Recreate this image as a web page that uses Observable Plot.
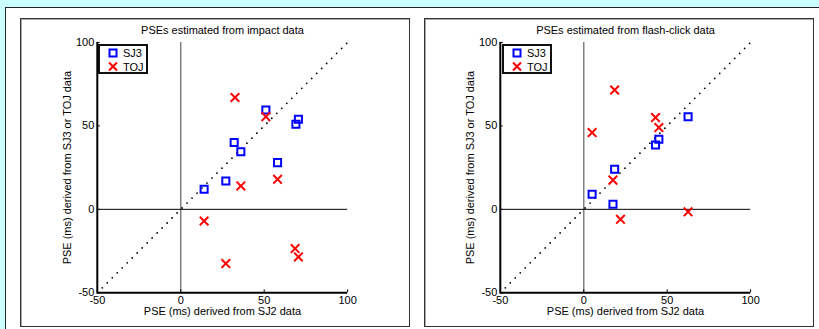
<!DOCTYPE html>
<html><head><meta charset="utf-8">
<script src="https://cdn.jsdelivr.net/npm/d3@7"></script>
<script src="https://cdn.jsdelivr.net/npm/@observablehq/plot@0.6"></script>
<style>
body{margin:0;background:#ccffff;width:819px;height:329px;overflow:hidden;position:relative;font-family:"Liberation Sans",Arial,sans-serif;}
#outer{position:absolute;left:5px;top:7px;width:830px;height:340px;background:#fff;border-left:1.5px solid #222;border-top:1.5px solid #222;}
.panel{position:absolute;top:18px;width:390px;height:309px;box-sizing:border-box;border:1px solid #333;box-shadow:inset 1px 1px 0 #aaa;background:#fff;}
.panel svg{position:absolute;left:-1px;top:-1px;}
.legend{position:absolute;left:77px;top:25px;width:50px;height:30px;box-sizing:border-box;border:2px solid #111;background:#fff;}
.legend svg{position:absolute;left:0;top:0;}
</style></head>
<body>
<div id="outer"></div>
<div class="panel" id="p1" style="left:20px"></div>
<div class="panel" id="p2" style="left:424px"></div>
<script>
// ---- data ----
const xTicks = [-50, 0, 50, 100];
const yTicks = [-50, 0, 50, 100];
const seriesNames = ["SJ3", "TOJ"];
const titles = ["PSEs estimated from impact data", "PSEs estimated from flash-click data"];
const xLabel = "PSE (ms) derived from SJ2 data";
const yLabel = "PSE (ms) derived from SJ3 or TOJ data";

// impact panel
const impactSJ3_x = [14, 27, 32, 36, 51, 58, 69, 70.5];
const impactSJ3_y = [12, 17, 40, 34.5, 59.5, 28, 51, 54];
const impactTOJ_x = [32.5, 51, 36, 58, 14, 27, 68.5, 70.5];
const impactTOJ_y = [67, 55.5, 14, 18, -7, -32.5, -23.5, -28.5];

// flash-click panel
const flashSJ3_x = [5, 18.5, 17.5, 43, 45, 62.5];
const flashSJ3_y = [9, 24, 3, 38.5, 42, 55.5];
const flashTOJ_x = [5, 18.5, 17.5, 22, 43, 45, 62.5];
const flashTOJ_y = [46, 71.5, 17.5, -6, 55, 49, -1.5];

const blue = "#0000ff", red = "#ff0000";
const font = "'Liberation Sans', Arial, sans-serif";

function zip(xs, ys) { return xs.map((x, i) => ({x, y: ys[i]})); }

function panel(el, title, sj3, toj, mLeft, mRight) {
  const dom = [xTicks[0], xTicks[xTicks.length - 1]];
  const chart = Plot.plot({
    width: 389, height: 308,
    marginLeft: mLeft, marginRight: mRight, marginTop: 24, marginBottom: 33,
    x: {domain: dom},
    y: {domain: [yTicks[0], yTicks[yTicks.length - 1]]},
    style: {background: "transparent", fontSize: "11px", fontFamily: font, color: "#000", overflow: "visible"},
    marks: [
      Plot.ruleX([0], {stroke: "#808080", strokeWidth: 1.5}),
      Plot.ruleY([0], {stroke: "#000", strokeWidth: 1}),
      Plot.line(dom, {x: d => d, y: d => d, stroke: "#000", strokeWidth: 1.8, strokeLinecap: "round", strokeDasharray: "0 7.07"}),
      Plot.dot(sj3, {x: "x", y: "y", symbol: "square", r: 4, stroke: blue, strokeWidth: 2, fill: "none"}),
      Plot.dot(toj, {x: "x", y: "y", symbol: "times", r: 4, stroke: red, strokeWidth: 2}),
      Plot.ruleX([xTicks[0]], {stroke: "#000", strokeWidth: 2}),
      Plot.ruleY([yTicks[0]], {stroke: "#000", strokeWidth: 2}),
      Plot.axisX(xTicks, {tickSize: 3, dy: -3, fill: "none", label: null}),
      Plot.axisY(yTicks, {tickSize: 3, dx: 3, fill: "none", label: null}),
      Plot.axisX(xTicks, {tickSize: 0, tickPadding: 3, stroke: "none", label: null, tickFormat: d => String(d)}),
      Plot.axisY(yTicks, {tickSize: 0, tickPadding: 3, stroke: "none", label: null, tickFormat: d => String(d)}),
      Plot.text([title], {frameAnchor: "top", dy: -12, fontSize: 11, textAnchor: "middle", lineAnchor: "middle"}),
      Plot.text([xLabel], {frameAnchor: "bottom", dy: 19, fontSize: 11, textAnchor: "middle", lineAnchor: "middle"}),
      Plot.text([yLabel], {frameAnchor: "left", dx: -30, rotate: -90, fontSize: 11, textAnchor: "middle", lineAnchor: "middle"})
    ]
  });
  el.appendChild(chart);
  // legend
  const lg = document.createElement("div");
  lg.className = "legend";
  const s = d3.create("svg").attr("width", 46).attr("height", 26)
    .style("font-family", font).style("font-size", "11px");
  s.append("rect").attr("x", 9.5).attr("y", 3.5).attr("width", 7).attr("height", 7)
    .attr("fill", "none").attr("stroke", blue).attr("stroke-width", 2);
  s.append("path").attr("d", "M9,16.5L17,24.5M17,16.5L9,24.5").attr("stroke", red).attr("stroke-width", 2);
  s.append("text").attr("x", 23).attr("y", 11).text(seriesNames[0]);
  s.append("text").attr("x", 23).attr("y", 25).text(seriesNames[1]);
  lg.appendChild(s.node());
  el.appendChild(lg);
}

panel(document.getElementById("p1"), titles[0], zip(impactSJ3_x, impactSJ3_y), zip(impactTOJ_x, impactTOJ_y), 77, 61);
panel(document.getElementById("p2"), titles[1], zip(flashSJ3_x, flashSJ3_y), zip(flashTOJ_x, flashTOJ_y), 76, 62);
</script>
</body></html>
